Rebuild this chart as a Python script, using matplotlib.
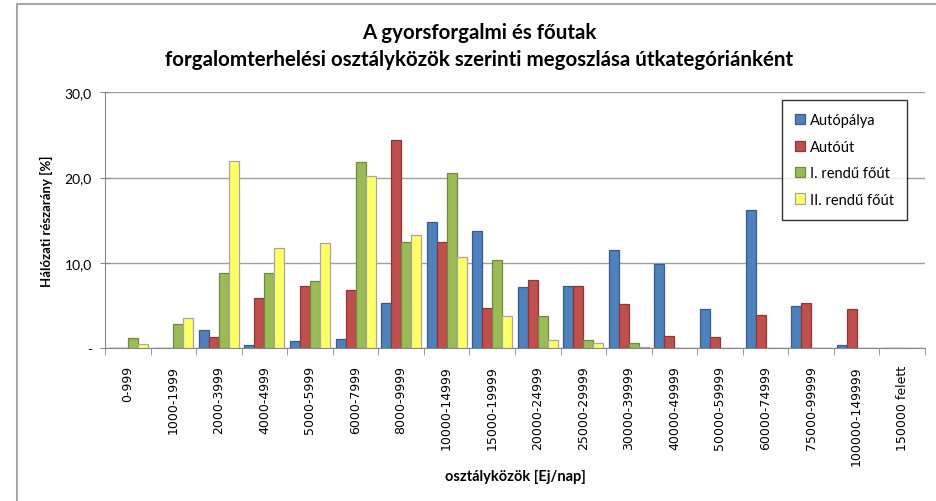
import numpy as np
import matplotlib.pyplot as plt
from matplotlib.patches import Rectangle

# traffic volume classes (vehicles/day)
categories = ["0-999", "1000-1999", "2000-3999", "4000-4999", "5000-5999",
              "6000-7999", "8000-9999", "10000-14999", "15000-19999",
              "20000-24999", "25000-29999", "30000-39999", "40000-49999",
              "50000-59999", "60000-74999", "75000-99999", "100000-149999",
              "150000 felett"]

autopalya = [0, 0, 2.2, 0.4, 0.8, 1.05, 5.3, 14.8, 13.75, 7.2, 7.25, 11.5,
             9.85, 4.55, 16.2, 4.9, 0.4, 0]
autout = [0, 0, 1.3, 5.9, 7.3, 6.8, 24.4, 12.5, 4.75, 8.05, 7.25, 5.2,
          1.4, 1.3, 3.95, 5.35, 4.65, 0]
elsorendu = [1.25, 2.9, 8.8, 8.8, 7.85, 21.8, 12.5, 20.5, 10.4, 3.8, 1.0,
             0.65, 0.08, 0.08, 0.08, 0, 0, 0]
masodrendu = [0.47, 3.6, 21.9, 11.8, 12.3, 20.25, 13.3, 10.7, 3.75, 1.0,
              0.6, 0.2, 0.05, 0.05, 0.05, 0, 0, 0]

series_names = ["Autópálya", "Autóút", "I. rendű főút", "II. rendű főút"]
fills = ["#4F81BD", "#C0504D", "#9BBB59", "#FFFF66"]
edges = ["#385D8A", "#8C3836", "#71893F", "#A6A6A6"]

plt.rcParams['font.family'] = ['Lato', 'DejaVu Sans']

fig = plt.figure(figsize=(9.36, 5.02), dpi=100)
# outer chart border (only left and top edges are visible in the crop)
fig.patches.append(Rectangle((17 / 936, -0.1), 1.2, 497 / 502 + 0.1,
                             transform=fig.transFigure, fill=False,
                             edgecolor="#A6A6A6", linewidth=1.5))

ax = fig.add_axes([105 / 936, 152.7 / 502, 820 / 936, 256 / 502])

x = np.arange(len(categories))
w = 0.22
for i, vals in enumerate([autopalya, autout, elsorendu, masodrendu]):
    ax.bar(x + (i - 1.5) * w, vals, width=w, color=fills[i],
           edgecolor=edges[i], linewidth=0.9, label=series_names[i], zorder=3)

ax.set_xlim(-0.5, len(categories) - 0.5)
ax.set_ylim(0, 30)
ax.set_yticks([0, 10, 20, 30])
ax.set_yticklabels(["-", "10,0", "20,0", "30,0"], fontsize=10)
ax.yaxis.grid(True, color="#A0A0A0", linewidth=1, zorder=0)
ax.tick_params(axis="y", direction="inout", length=7, color="#888888", pad=6)

ax.set_xticks(x)
ax.set_xticklabels(categories, rotation=90, fontsize=9, family="DejaVu Sans")
ax.tick_params(axis="x", length=0, pad=12)
ax.set_xticks(np.arange(-0.5, len(categories)), minor=True)
ax.tick_params(axis="x", which="minor", length=5, color="#888888")

for s in ["top", "right"]:
    ax.spines[s].set_visible(False)
ax.spines["left"].set_color("#888888")
ax.spines["bottom"].set_color("#888888")

ax.set_ylabel("Hálózati részarány [%]", fontsize=9.5, fontweight="bold", labelpad=8)
ax.set_xlabel("osztályközök [Ej/nap]", fontsize=10.5, fontweight="bold", labelpad=3)

fig.text(0.512, 0.935, "A gyorsforgalmi és főutak", ha="center", va="center",
         fontsize=14.8, fontweight="bold")
fig.text(0.512, 0.88, "forgalomterhelési osztályközök szerinti megoszlása útkategóriánként",
         ha="center", va="center", fontsize=14.8, fontweight="bold")

leg = ax.legend(loc="upper right", bbox_to_anchor=(914 / 936, 408 / 502),
                bbox_transform=fig.transFigure, fontsize=10.5, frameon=True,
                fancybox=False, handlelength=0.7, handleheight=0.7,
                handletextpad=0.3, labelspacing=0.85, borderpad=0.9)
leg.get_frame().set_edgecolor("black")
leg.get_frame().set_linewidth(1)

fig.savefig("out.png", dpi=100)
